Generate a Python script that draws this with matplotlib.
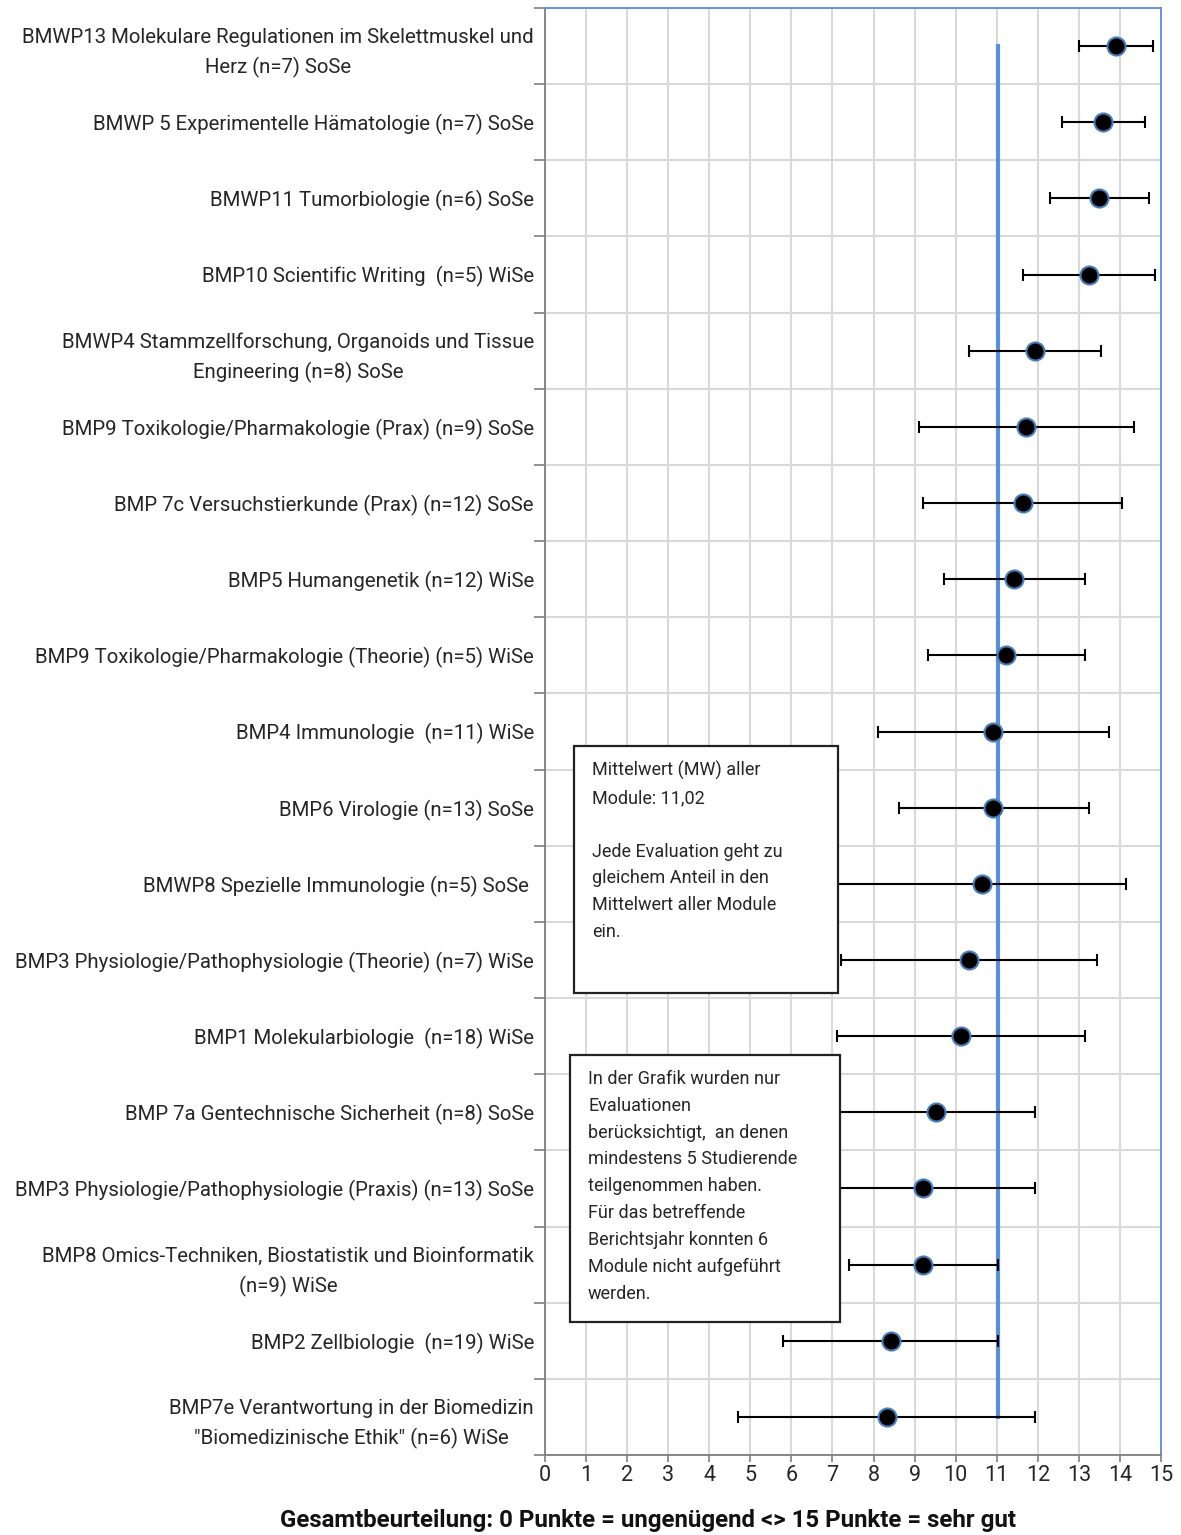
import matplotlib
matplotlib.use("Agg")
import matplotlib.pyplot as plt
from matplotlib.patches import Rectangle

plt.rcParams['font.family'] = ['Roboto', 'DejaVu Sans']

# module labels, top to bottom
labels = [
    "BMWP13 Molekulare Regulationen im Skelettmuskel und\nHerz (n=7) SoSe",
    "BMWP 5 Experimentelle Hämatologie (n=7) SoSe",
    "BMWP11 Tumorbiologie (n=6) SoSe",
    "BMP10 Scientific Writing  (n=5) WiSe",
    "BMWP4 Stammzellforschung, Organoids und Tissue\nEngineering (n=8) SoSe",
    "BMP9 Toxikologie/Pharmakologie (Prax) (n=9) SoSe",
    "BMP 7c Versuchstierkunde (Prax) (n=12) SoSe",
    "BMP5 Humangenetik (n=12) WiSe",
    "BMP9 Toxikologie/Pharmakologie (Theorie) (n=5) WiSe",
    "BMP4 Immunologie  (n=11) WiSe",
    "BMP6 Virologie (n=13) SoSe",
    "BMWP8 Spezielle Immunologie (n=5) SoSe ",
    "BMP3 Physiologie/Pathophysiologie (Theorie) (n=7) WiSe",
    "BMP1 Molekularbiologie  (n=18) WiSe",
    "BMP 7a Gentechnische Sicherheit (n=8) SoSe",
    "BMP3 Physiologie/Pathophysiologie (Praxis) (n=13) SoSe",
    "BMP8 Omics-Techniken, Biostatistik und Bioinformatik\n(n=9) WiSe",
    "BMP2 Zellbiologie  (n=19) WiSe",
    "BMP7e Verantwortung in der Biomedizin\n\"Biomedizinische Ethik\" (n=6) WiSe",
]
means = [13.91, 13.59, 13.49, 13.24, 11.93, 11.72, 11.63, 11.42, 11.22, 10.92,
         10.92, 10.63, 10.33, 10.13, 9.51, 9.21, 9.21, 8.42, 8.32]
lower = [13.01, 12.59, 12.30, 11.63, 10.32, 9.11, 9.21, 9.72, 9.32, 8.12,
         8.62, 7.12, 7.21, 7.11, 7.09, 6.49, 7.40, 5.80, 4.69]
upper = [14.81, 14.61, 14.71, 14.85, 13.54, 14.34, 14.05, 13.14, 13.14, 13.74,
         13.24, 14.14, 13.44, 13.14, 11.93, 11.93, 11.04, 11.04, 11.93]
mw_all = 11.02

box1 = ("Mittelwert (MW) aller\nModule: 11,02\n \nJede Evaluation geht zu\n"
        "gleichem Anteil in den\nMittelwert aller Module\nein.")
box2 = ("In der Grafik wurden nur\nEvaluationen\nberücksichtigt,  an denen\n"
        "mindestens 5 Studierende\nteilgenommen haben.\nFür das betreffende\n"
        "Berichtsjahr konnten 6\nModule nicht aufgeführt\nwerden.")

W, H = 1181, 1535
fig = plt.figure(figsize=(W / 100, H / 100), dpi=100)
ax = fig.add_axes([545 / W, 1 - 1455 / H, 616 / W, 1447 / H])

ypos = list(range(len(labels)))
xerr = [[m - l for m, l in zip(means, lower)], [u - m for m, u in zip(means, upper)]]

# mean line across all modules
ax.plot([mw_all, mw_all], [ypos[0], ypos[-1]], color='#5b8fd6', lw=3, zorder=3)

ax.errorbar(means, ypos, xerr=xerr, fmt='none', ecolor='black', elinewidth=1.5,
            capsize=4, capthick=1.5, zorder=4)
ax.plot(means, ypos, 'o', ms=13, mfc='black', mec='#4a7ebb', mew=1.5, zorder=5)

ax.set_xlim(0, 15)
ax.set_ylim(len(labels) - 0.5, -0.5)
ax.set_xticks(range(16))
ax.set_yticks(ypos)
ax.set_yticklabels(labels)
ax.set_yticks([i - 0.5 for i in range(len(labels) + 1)], minor=True)
ax.tick_params(axis='y', which='major', length=0, pad=8, labelsize=14.7, labelcolor='#262626')
ax.tick_params(axis='y', which='minor', length=8, width=1.2, color='#7f7f7f')
ax.tick_params(axis='x', length=5, width=1.2, color='#7f7f7f', labelsize=15.5,
               labelcolor='#262626', pad=2)
for lab in ax.get_yticklabels():
    lab.set_multialignment('center')
    lab.set_linespacing(1.6)

ax.grid(True, axis='x', which='major', color='#d9d9d9', lw=1.5, zorder=0)
ax.grid(True, axis='y', which='minor', color='#d9d9d9', lw=1.5, zorder=0)
ax.set_axisbelow(True)

ax.spines['left'].set_color('#7f7f7f')
ax.spines['bottom'].set_color('#7f7f7f')
ax.spines['top'].set_color('#5b8fd6')
ax.spines['right'].set_color('#5b8fd6')
for s in ax.spines.values():
    s.set_linewidth(1.3)

fig.text(648 / W, 1 - 1521 / H,
         "Gesamtbeurteilung: 0 Punkte = ungenügend <> 15 Punkte = sehr gut",
         ha='center', va='center', fontsize=17.3, fontweight='bold', color='#111111')

# note boxes
for (x0, y0, x1, y1), txt in [((574, 746, 838, 993), box1), ((570, 1055, 840, 1322), box2)]:
    fig.patches.append(Rectangle((x0 / W, 1 - y1 / H), (x1 - x0) / W, (y1 - y0) / H,
                                 transform=fig.transFigure, fc='white', ec='#222222',
                                 lw=1.6, zorder=10))
    fig.text((x0 + 18) / W, 1 - (y0 + 15) / H, txt, ha='left', va='top', fontsize=13,
             color='#262626', linespacing=1.63, zorder=11)

fig.savefig('out.png', dpi=100)
